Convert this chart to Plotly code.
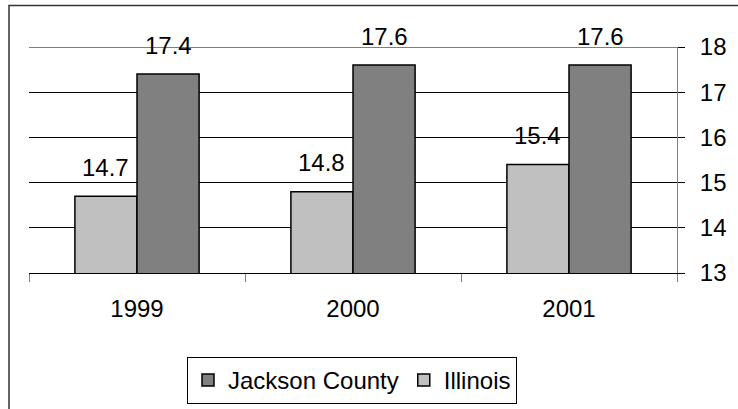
import plotly.graph_objects as go

years = ["1999", "2000", "2001"]
illinois = [14.7, 14.8, 15.4]
jackson = [17.4, 17.6, 17.6]
y_ticks = [13, 14, 15, 16, 17, 18]

W, H = 738, 409
ML, MR, MT, MB = 29, 61, 47, 136
BARGAP = 0.425
FONT = "Liberation Sans, Arial, sans-serif"
FS = 24

plot_w = W - ML - MR
plot_h = H - MT - MB
half_off = plot_w / len(years) * (1 - BARGAP) / 4

fig = go.Figure()
fig.add_trace(go.Bar(x=years, y=illinois, name="Illinois",
                     marker=dict(color="#C0C0C0", line=dict(color="#000000", width=1.5)),
                     legendrank=2))
fig.add_trace(go.Bar(x=years, y=jackson, name="Jackson County",
                     marker=dict(color="#808080", line=dict(color="#000000", width=1.5)),
                     legendrank=1))

ann = []
for i, v in enumerate(illinois):
    ann.append(dict(x=i, y=v, text=f"{v:.1f}", xshift=-half_off, yshift=29,
                    yanchor="middle", showarrow=False, font=dict(family=FONT, size=FS, color="#000")))
for i, v in enumerate(jackson):
    ann.append(dict(x=i, y=v, text=f"{v:.1f}", xshift=half_off, yshift=29,
                    yanchor="middle", showarrow=False, font=dict(family=FONT, size=FS, color="#000")))

top = max(y_ticks)
fig.update_layout(
    width=W, height=H,
    margin=dict(l=ML, r=MR, t=MT, b=MB, pad=0, autoexpand=False),
    paper_bgcolor="white", plot_bgcolor="white",
    barmode="group", bargap=BARGAP, bargroupgap=0,
    font=dict(family=FONT, size=FS, color="#000"),
    annotations=ann,
    showlegend=True,
    legend=dict(orientation="h", xref="container", yref="container",
                x=352 / W, xanchor="center", y=(H - 380.5) / H, yanchor="middle",
                bordercolor="#000000", borderwidth=1, bgcolor="white",
                font=dict(family=FONT, size=FS), itemwidth=30, tracegroupgap=0),
    xaxis=dict(type="category", categoryorder="array", categoryarray=years,
               range=[-0.5, len(years) - 0.5], showgrid=False, showline=True,
               linecolor="#000", linewidth=1, automargin=False,
               ticks="outside", tickson="boundaries", ticklen=8, tickcolor="#808080",
               ticklabelstandoff=14, zeroline=False, tickangle=0),
    yaxis=dict(side="right", range=[min(y_ticks), top], tickvals=y_ticks, showgrid=True,
               gridcolor="#000", gridwidth=1, showline=True, linecolor="#808080", linewidth=1,
               automargin=False,
               ticks="outside", ticklen=7, tickcolor="#000", ticklabelstandoff=10, zeroline=False),
    shapes=[
        dict(type="line", xref="paper", yref="y", x0=0, x1=1 + 7 / plot_w, y0=top, y1=top,
             line=dict(color="#000", width=1), layer="below"),
        dict(type="rect", xref="paper", yref="paper",
             x0=(9 - ML) / plot_w, x1=(W + 10 - ML) / plot_w,
             y0=-(H + 10 - (H - MB)) / plot_h, y1=(H - MB - 5.5) / plot_h,
             line=dict(color="#333333", width=1.5), fillcolor="rgba(0,0,0,0)", layer="below")],
)

fig.write_html("out.html", config={"displayModeBar": False},
               post_script="document.body.style.margin='0';document.body.style.overflow='hidden';")
